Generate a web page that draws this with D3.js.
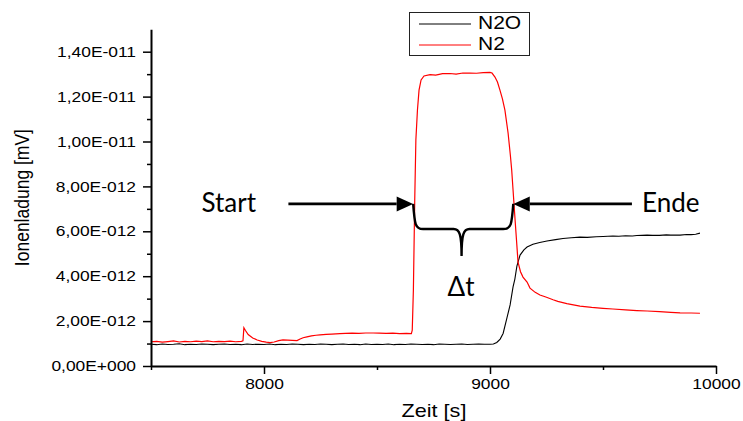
<!DOCTYPE html>
<html><head><meta charset="utf-8">
<script src="https://cdn.jsdelivr.net/npm/d3@7"></script>
<style>body{margin:0;background:#fff} svg{display:block}</style>
</head><body>
<script>
// ---------- data (values in units of 1E-012) ----------
const seriesNames = ["N2O", "N2"];
const seriesColors = ["#000000", "#ff0000"];

const n2oTime = [7500,7525,7550,7575,7600,7625,7650,7675,7700,7725,7750,7775,7800,7825,7850,7875,7900,7925,7950,7975,
  8000,8025,8050,8075,8100,8125,8150,8175,8200,8225,8250,8275,8300,8325,8350,8375,8400,8425,8450,8475,
  8500,8525,8550,8575,8600,8625,8650,8675,8700,8725,8750,8775,8800,8825,8850,8875,8900,8925,8950,8975,
  9000,9015,9030,9045,9058,9075,9089,9102,9110,9119,9133,9150,9164,9190,9220,9252,9290,9323,9360,9398,
  9430,9470,9500,9544,9570,9600,9630,9650,9695,9720,9750,9780,9800,9841,9870,9890,9910,9929];
const n2oValue = [0.97,0.95,0.98,0.96,0.97,0.99,0.95,0.97,0.96,0.98,0.97,0.95,0.97,0.98,0.96,0.97,0.95,0.98,0.96,0.97,
  0.96,0.98,0.95,0.97,0.96,0.98,0.97,0.95,0.97,0.96,0.98,0.97,0.95,0.97,0.98,0.96,0.97,0.95,0.98,0.96,
  0.97,0.96,0.98,0.95,0.97,0.96,0.98,0.97,0.96,0.97,0.95,0.98,0.97,0.96,0.97,0.98,0.96,0.97,0.98,0.97,
  0.97,0.98,1.05,1.20,1.45,2.14,2.72,3.52,3.87,4.45,4.94,5.17,5.30,5.42,5.50,5.57,5.63,5.68,5.71,5.74,
  5.73,5.76,5.77,5.79,5.78,5.80,5.79,5.81,5.83,5.82,5.82,5.84,5.83,5.83,5.86,5.85,5.87,5.92];

const n2Time = [7500,7525,7550,7575,7600,7625,7650,7675,7700,7725,7750,7775,7800,7825,7850,7875,7900,
  7907,7911,7918,7930,7950,7970,7990,8010,8027,8045,8065,8084,8105,8125,8146,8160,8173,8190,8210,8230,8248,
  8275,8300,8336,8360,8390,8420,8450,8483,8510,8540,8570,8600,8630,8652,
  8656,8661,8667,8672,8679,8686,8695,8708,8735,8760,8790,8823,8850,8880,8911,8940,8970,9000,
  9009,9022,9033,9044,9055,9066,9080,9090,9096,9102,9111,9118,9124,9135,9146,9164,9177,9200,9221,9250,
  9279,9300,9340,9398,9450,9500,9544,9600,9650,9695,9750,9800,9841,9890,9929];
const n2Value = [1.08,1.10,1.06,1.09,1.12,1.07,1.10,1.08,1.11,1.09,1.12,1.08,1.10,1.09,1.11,1.08,1.10,
  1.12,1.70,1.58,1.40,1.25,1.16,1.10,1.06,1.04,1.07,1.13,1.16,1.15,1.14,1.13,1.20,1.26,1.30,1.34,1.37,1.39,
  1.41,1.42,1.44,1.45,1.46,1.45,1.47,1.47,1.46,1.45,1.46,1.44,1.45,1.44,
  1.60,3.39,7.39,10.07,11.40,12.29,12.74,12.92,12.98,12.96,13.02,13.03,13.00,13.05,13.05,13.04,13.07,13.08,
  13.05,12.87,12.65,12.29,11.90,11.40,10.38,9.40,8.73,7.84,6.50,5.50,4.63,4.20,3.96,3.74,3.47,3.28,3.16,3.06,
  2.95,2.88,2.78,2.67,2.61,2.57,2.54,2.50,2.47,2.45,2.42,2.39,2.37,2.36,2.35];

const xTickValues = [8000, 9000, 10000];
const xTickLabels = ["8000", "9000", "10000"];
const xMinorTicks = [7500, 8500, 9500];
const yTickValues = [0, 2, 4, 6, 8, 10, 12, 14];
const yTickLabels = ["0,00E+000","2,00E-012","4,00E-012","6,00E-012","8,00E-012","1,00E-011","1,20E-011","1,40E-011"];
const yMinorTicks = [1, 3, 5, 7, 9, 11, 13];
const xTitle = "Zeit [s]";
const yTitle = "Ionenladung [mV]";

// annotations (data coordinates)
const startLabel = "Start", endLabel = "Ende", deltaLabel = "Δt";
const startTime = 8660, endTime = 9103;       // arrow tips
const startTail = 8108, endTail = 9628;       // arrow tails
const arrowLevel = 7.22, braceLevel = 6.10, braceTipLevel = 4.90;
const startTextTime = 7965, endTextTime = 9673, textLevel = 6.86;
const deltaTime = 8872, deltaLevel = 3.12;

// ---------- drawing ----------
const W = 743, H = 421;
const stretch = 1.2;
const sansFont = "'Liberation Sans', Arial, sans-serif";
const annoFont = "Lato, 'Open Sans', 'DejaVu Sans', sans-serif";

const svg = d3.select("body").append("svg").attr("width", W).attr("height", H);
const x = d3.scaleLinear().domain([7500, 10000]).range([151, 716]);
const y = d3.scaleLinear().domain([0, 15]).range([366, 29.25]);

function styleAxis(g, fs) {
  g.select(".domain").attr("stroke", "#000").attr("stroke-width", 2);
  g.selectAll(".tick line").attr("stroke", "#000").attr("stroke-width", 1.5);
  g.selectAll(".tick text").attr("font-size", fs).attr("font-family", sansFont)
    .attr("fill", "#000").attr("transform", `scale(${stretch},1)`);
}

// series
const line = d3.line().x(d => x(d[0])).y(d => y(d[1]));
svg.append("path").datum(d3.zip(n2oTime, n2oValue))
  .attr("d", line).attr("fill", "none").attr("stroke", seriesColors[0]).attr("stroke-width", 1.1);
svg.append("path").datum(d3.zip(n2Time, n2Value))
  .attr("d", line).attr("fill", "none").attr("stroke", seriesColors[1]).attr("stroke-width", 1.2);

// axes
const gyMinor = svg.append("g").attr("transform", `translate(${x(7500)},0)`)
  .call(d3.axisLeft(y).tickValues(yMinorTicks).tickFormat("").tickSize(4).tickSizeOuter(0));
gyMinor.select(".domain").remove();
styleAxis(gyMinor, 14.5);
const gy = svg.append("g").attr("transform", `translate(${x(7500)},0)`)
  .call(d3.axisLeft(y).tickValues(yTickValues).tickFormat((d, i) => yTickLabels[i])
    .tickSize(8).tickPadding(4.5).tickSizeOuter(0));
styleAxis(gy, 14.5);

const gxMinor = svg.append("g").attr("transform", `translate(0,${y(0)})`)
  .call(d3.axisBottom(x).tickValues(xMinorTicks).tickFormat("").tickSize(4).tickSizeOuter(0));
gxMinor.select(".domain").remove();
styleAxis(gxMinor, 14.5);
const gx = svg.append("g").attr("transform", `translate(0,${y(0)})`)
  .call(d3.axisBottom(x).tickValues(xTickValues).tickFormat((d, i) => xTickLabels[i])
    .tickSize(8).tickPadding(4.5).tickSizeOuter(0));
styleAxis(gx, 14.5);

// axis titles
svg.append("text").text(xTitle)
  .attr("transform", `translate(${(x.range()[0] + x.range()[1]) / 2 + 0.5},417) scale(${stretch},1)`)
  .attr("text-anchor", "middle").attr("font-family", sansFont).attr("font-size", 18).attr("fill", "#000");
svg.append("text").text(yTitle)
  .attr("transform", `translate(29,${(y.range()[0] + y.range()[1]) / 2}) scale(${stretch},1) rotate(-90)`)
  .attr("text-anchor", "middle").attr("font-family", sansFont).attr("font-size", 17.5).attr("fill", "#000");

// legend
const lg = svg.append("g");
lg.append("rect").attr("x", 409.5).attr("y", 12.5).attr("width", 120).attr("height", 43)
  .attr("fill", "#fff").attr("stroke", "#222").attr("stroke-width", 1);
seriesNames.forEach((name, i) => {
  const ly = 24 + i * 21;
  lg.append("line").attr("x1", 419).attr("x2", 471).attr("y1", ly).attr("y2", ly)
    .attr("stroke", seriesColors[i]).attr("stroke-width", 1);
  lg.append("text").text(name)
    .attr("transform", `translate(478,${ly + 4.5}) scale(${stretch},1)`)
    .attr("font-family", sansFont).attr("font-size", 17.5).attr("fill", "#000");
});

// annotations
const ann = svg.append("g");
function arrow(tailT, tipT) {
  const xt = x(tailT), xp = x(tipT), ya = y(arrowLevel);
  const dir = Math.sign(xp - xt), len = 16.5, hw = 7.5;
  ann.append("line").attr("x1", xt).attr("x2", xp - dir * len).attr("y1", ya).attr("y2", ya)
    .attr("stroke", "#000").attr("stroke-width", 2.6);
  ann.append("path")
    .attr("d", `M${xp},${ya}L${xp - dir * len},${ya - hw}L${xp - dir * len},${ya + hw}Z`)
    .attr("fill", "#000");
}
arrow(startTail, startTime);
arrow(endTail, endTime);

const xL = x(startTime), xR = x(endTime), xm = x(deltaTime) + 0.5;
const yT = y(arrowLevel), yM = y(braceLevel), yP = y(braceTipLevel);
const bracePath =
  `M${xL},${yT} C${xL + 1.5},${yM - 5} ${xL + 2},${yM} ${xL + 10},${yM} L${xm - 8},${yM} ` +
  `C${xm - 2},${yM} ${xm},${yM + 5} ${xm},${yP} ` +
  `M${xm},${yP} C${xm},${yM + 5} ${xm + 2},${yM} ${xm + 8},${yM} L${xR - 10},${yM} ` +
  `C${xR - 2},${yM} ${xR - 1.5},${yM - 5} ${xR},${yT}`;
ann.append("path").attr("d", bracePath).attr("fill", "none")
  .attr("stroke", "#000").attr("stroke-width", 2.4);

ann.append("text").text(startLabel).attr("x", x(startTextTime)).attr("y", y(textLevel))
  .attr("text-anchor", "end").attr("font-family", annoFont).attr("font-size", 26).attr("fill", "#000");
ann.append("text").text(endLabel).attr("x", x(endTextTime)).attr("y", y(textLevel))
  .attr("text-anchor", "start").attr("font-family", annoFont).attr("font-size", 26).attr("fill", "#000");
ann.append("text").text(deltaLabel).attr("x", x(deltaTime)).attr("y", y(deltaLevel))
  .attr("text-anchor", "middle").attr("font-family", annoFont).attr("font-size", 26).attr("fill", "#000");
</script>
</body></html>
